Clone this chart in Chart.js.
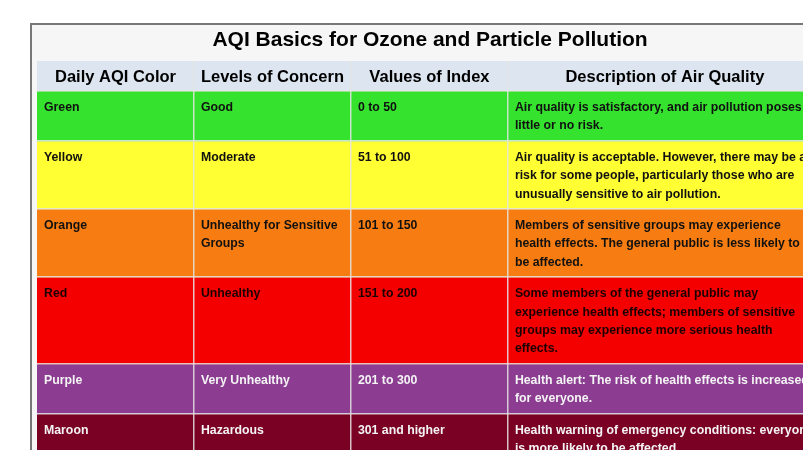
<!DOCTYPE html>
<html>
<head>
<meta charset="utf-8">
<script src="https://cdn.jsdelivr.net/npm/chart.js@4.4.1/dist/chart.umd.min.js"></script>
<style>
  html, body { margin: 0; padding: 0; background: #fff; }
  #wrap { width: 803px; height: 450px; }
</style>
</head>
<body>
<div id="wrap"><canvas id="aqi" width="803" height="450"></canvas></div>
<script>
// table content
const tableTitle = "AQI Basics for Ozone and Particle Pollution";
const headers = ["Daily AQI Color", "Levels of Concern", "Values of Index", "Description of Air Quality"];
const colorNames = ["Green", "Yellow", "Orange", "Red", "Purple", "Maroon"];
const concernLevels = [
    ["Good"],
    ["Moderate"],
    ["Unhealthy for Sensitive", "Groups"],
    ["Unhealthy"],
    ["Very Unhealthy"],
    ["Hazardous"]
];
const indexValues = ["0 to 50", "51 to 100", "101 to 150", "151 to 200", "201 to 300", "301 and higher"];
const descriptions = [
    ["Air quality is satisfactory, and air pollution poses", "little or no risk."],
    ["Air quality is acceptable. However, there may be a", "risk for some people, particularly those who are", "unusually sensitive to air pollution."],
    ["Members of sensitive groups may experience", "health effects. The general public is less likely to", "be affected."],
    ["Some members of the general public may", "experience health effects; members of sensitive", "groups may experience more serious health", "effects."],
    ["Health alert: The risk of health effects is increased", "for everyone."],
    ["Health warning of emergency conditions: everyone", "is more likely to be affected."]
];

// styles / layout
const rowFills = ["#35e22e", "#ffff33", "#f77d12", "#f50000", "#8c3d92", "#7a0024"];
const rowInk = ["#111", "#111", "#111", "#1c0000", "#f4f4f4", "#f4f4f4"];
const headerFill = "#dde6f0";
const colEdges = [0, 1, 2, 3, 5];
const LINE_H = 18.4, CELL_PAD = 13, HEAD_H = 30;
const FONT = "'Liberation Sans', Arial, sans-serif";
const gridLook = { z: 1, drawTicks: false, color: "rgba(228,228,228,0.85)", lineWidth: 1.5, offset: false };

let lineCounts = colorNames.map((c, i) => Math.max(concernLevels[i].length, descriptions[i].length));
let rowHeights = [HEAD_H].concat(lineCounts.map(n => n * LINE_H + CELL_PAD));
let edges = [];
rowHeights.reduce((acc, h) => { acc += h; edges.push(acc); return acc; }, 0);

let datasets = rowHeights.map((h, i) => ({
    label: i === 0 ? "header" : colorNames[i - 1],
    data: [h],
    backgroundColor: i === 0 ? headerFill : rowFills[i - 1],
    borderWidth: 0,
    categoryPercentage: 1,
    barPercentage: 1
}));

const frame = {
    id: "frame",
    beforeDraw(chart) {
        let ctx = chart.ctx;
        ctx.save();
        ctx.fillStyle = "#fff";
        ctx.fillRect(0, 0, chart.width, chart.height);
        ctx.fillStyle = "#f6f6f6";
        ctx.fillRect(31, 24, chart.width - 31, chart.height - 24);
        ctx.strokeStyle = "#777";
        ctx.lineWidth = 2;
        ctx.beginPath();
        ctx.moveTo(31, chart.height);
        ctx.lineTo(31, 24);
        ctx.lineTo(chart.width, 24);
        ctx.stroke();
        ctx.restore();
    }
};

const cellText = {
    id: "cellText",
    afterDraw(chart) {
        let ctx = chart.ctx;
        let cols = chart.scales.cols;
        ctx.save();
        ctx.textBaseline = "alphabetic";
        // header row
        let hm = chart.getDatasetMeta(0).data[0];
        let hTop = Math.min(hm.y, hm.base);
        ctx.font = "bold 16.5px " + FONT;
        ctx.fillStyle = "#000";
        ctx.textAlign = "center";
        headers.forEach((t, j) => {
            let x = (cols.getPixelForValue(colEdges[j]) + cols.getPixelForValue(colEdges[j + 1])) / 2;
            ctx.fillText(t, x, hTop + 21);
        });
        // body rows
        ctx.font = "bold 12.3px " + FONT;
        ctx.textAlign = "left";
        colorNames.forEach((c, i) => {
            let el = chart.getDatasetMeta(i + 1).data[0];
            let top = Math.min(el.y, el.base);
            let cells = [[c], concernLevels[i], [indexValues[i]], descriptions[i]];
            ctx.fillStyle = rowInk[i];
            cells.forEach((lines, j) => {
                let x = cols.getPixelForValue(colEdges[j]) + 7;
                lines.forEach((ln, k) => ctx.fillText(ln, x, top + 20 + k * LINE_H));
            });
        });
        ctx.restore();
    }
};

new Chart(document.getElementById("aqi"), {
    type: "bar",
    data: { labels: [""], datasets: datasets },
    options: {
        responsive: false,
        animation: false,
        layout: { padding: { left: 37, right: -20, top: 24, bottom: 0 } },
        plugins: {
            legend: { display: false },
            tooltip: { enabled: false },
            title: {
                display: true,
                text: tableTitle,
                color: "#000",
                font: { family: FONT, size: 21, weight: "bold", lineHeight: 1.2 },
                padding: { top: 4, bottom: 7.8 }
            }
        },
        scales: {
            x: { stacked: true, display: false },
            y: {
                stacked: true,
                reverse: true,
                min: 0,
                max: 450 - 61,
                border: { display: false },
                ticks: { display: false },
                grid: gridLook,
                afterBuildTicks: s => { s.ticks = edges.slice(0, -1).map(v => ({ value: v })); }
            },
            cols: {
                type: "linear",
                axis: "x",
                position: "top",
                offset: false,
                min: 0,
                max: 4.88,
                border: { display: false },
                ticks: { display: false },
                grid: gridLook,
                afterBuildTicks: s => { s.ticks = colEdges.slice(1, -1).map(v => ({ value: v })); }
            }
        }
    },
    plugins: [frame, cellText]
});
</script>
</body>
</html>
